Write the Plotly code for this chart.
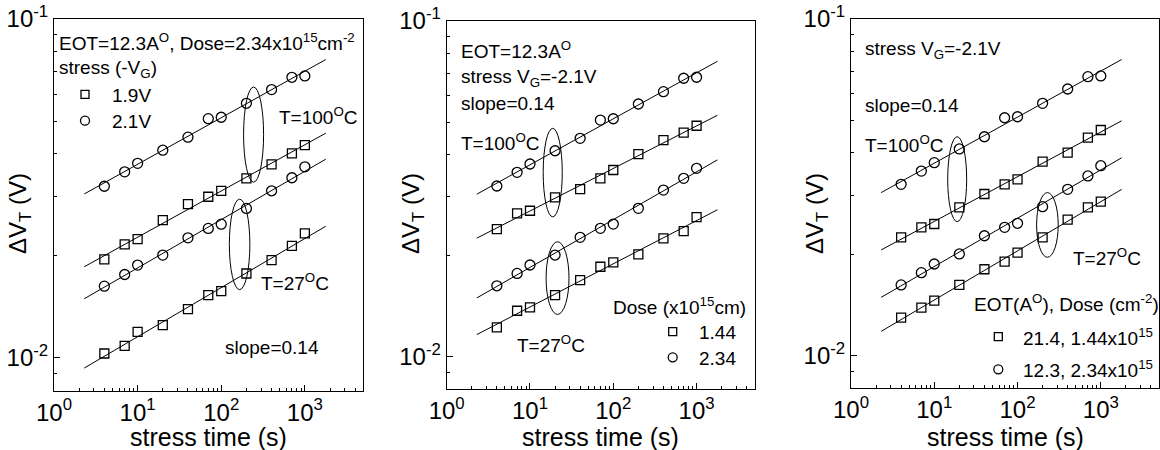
import numpy as np
import plotly.graph_objects as go

# ---------------- data ----------------
t = [4, 7, 10, 20, 40, 70, 100, 200, 400, 700, 1000]

# Panel 1: EOT=12.3A, Dose=2.34e15, stress -VG 1.9V (squares) / 2.1V (circles)
p1_sq_100 = [0.01952, 0.02161, 0.02241, 0.02549, 0.02843, 0.02988, 0.03112, 0.03386, 0.03724, 0.04012, 0.04246]
p1_ci_100 = [0.0321, 0.0354, 0.0375, 0.0410, 0.0448, 0.0508, 0.0513, 0.0564, 0.0619, 0.0673, 0.0679]
p1_sq_27 = [0.01030, 0.01085, 0.01193, 0.01249, 0.01392, 0.01531, 0.01573, 0.01774, 0.01942, 0.02140, 0.02330]
p1_ci_27 = [0.01628, 0.01762, 0.01878, 0.02010, 0.02261, 0.02410, 0.02481, 0.02761, 0.03112, 0.03400, 0.03663]

# Panel 2: dose 1.44 (squares) / 2.34 (circles)
p2_sq_100 = [0.02399, 0.02675, 0.02722, 0.02985, 0.03159, 0.03400, 0.03599, 0.04016, 0.04419, 0.04648, 0.04875]
p2_ci_100 = [0.03225, 0.03542, 0.03750, 0.04108, 0.04472, 0.05069, 0.05116, 0.05659, 0.06159, 0.06752, 0.06799]
p2_sq_27 = [0.01224, 0.01371, 0.01403, 0.01527, 0.01692, 0.01854, 0.01910, 0.02018, 0.02253, 0.02368, 0.02607]
p2_ci_27 = [0.01627, 0.01771, 0.01876, 0.02009, 0.02268, 0.02412, 0.02484, 0.02767, 0.03137, 0.03400, 0.03641]

# Panel 3: EOT 21.4 / dose 1.44 (squares), EOT 12.3 / dose 2.34 (circles)
p3_sq_100 = [0.02247, 0.02406, 0.02461, 0.02758, 0.03021, 0.03228, 0.03341, 0.03769, 0.04008, 0.04440, 0.04680]
p3_ci_100 = [0.03228, 0.03535, 0.03743, 0.04111, 0.04470, 0.05090, 0.05125, 0.05617, 0.06196, 0.06741, 0.06773]
p3_sq_27 = [0.01297, 0.01389, 0.01457, 0.01622, 0.01806, 0.01902, 0.02022, 0.02247, 0.02534, 0.02758, 0.02866]
p3_ci_27 = [0.01622, 0.01764, 0.01872, 0.02005, 0.02271, 0.02406, 0.02473, 0.02770, 0.03119, 0.03418, 0.03666]

fit_span = [2.3, 1780]

x_tickvals = [1, 10, 100, 1000]
x_ticktext = ["10<sup>0</sup>", "10<sup>1</sup>", "10<sup>2</sup>", "10<sup>3</sup>"]
y_tickvals = [0.01, 0.1]
y_ticktext = ["10<sup>-2</sup>", "10<sup>-1</sup>"]
x_range_vals = [1, 5000]
y_range_vals = [0.008, 0.1]

# ellipses: (x0, x1, y0, y1) in data units
p1_ellipses = [(185, 321, 0.033, 0.063), (125, 220, 0.0159, 0.0294)]
p2_ellipses = [(14.4, 24.4, 0.0261, 0.0479), (15.6, 29.4, 0.01337, 0.0220)]
p3_ellipses = [(14.5, 24.5, 0.0250, 0.0447), (169.5, 308, 0.0196, 0.0305)]

# ---------------- figure ----------------
W, H = 1160, 450
FONT = "Liberation Sans, Arial, sans-serif"

def fx(px):
    return px / W

def fy(py):
    return 1 - py / H

panels = [
    dict(xd=(54, 363.3), yd=(19, 390.7),
         series=[(p1_ci_100, "circle-open"), (p1_sq_100, "square-open"),
                 (p1_ci_27, "circle-open"), (p1_sq_27, "square-open")],
         ellipses=p1_ellipses),
    dict(xd=(446.7, 754.8), yd=(21, 389.3),
         series=[(p2_ci_100, "circle-open"), (p2_sq_100, "square-open"),
                 (p2_ci_27, "circle-open"), (p2_sq_27, "square-open")],
         ellipses=p2_ellipses),
    dict(xd=(851, 1159), yd=(19, 388.3),
         series=[(p3_ci_100, "circle-open"), (p3_sq_100, "square-open"),
                 (p3_ci_27, "circle-open"), (p3_sq_27, "square-open")],
         ellipses=p3_ellipses),
]

fig = go.Figure()
shapes = []
layout = dict(
    width=W, height=H,
    margin=dict(l=0, r=0, t=0, b=0, pad=0),
    autosize=False,
    paper_bgcolor="white", plot_bgcolor="white",
    showlegend=False,
    font=dict(family=FONT, color="black"),
)

for i, p in enumerate(panels):
    n = "" if i == 0 else str(i + 1)
    xa, ya = "x" + n, "y" + n
    for vals, sym in p["series"]:
        k, b = np.polyfit(np.log10(t), np.log10(vals), 1)
        tt = np.array(fit_span, dtype=float)
        fig.add_trace(go.Scatter(x=tt, y=10 ** (b + k * np.log10(tt)), mode="lines",
                                 line=dict(color="black", width=1),
                                 xaxis=xa, yaxis=ya, hoverinfo="skip"))
        fig.add_trace(go.Scatter(x=t, y=vals, mode="markers",
                                 marker=dict(symbol=sym, size=10 if "circle" in sym else 9,
                                             color="black", line=dict(width=1.3, color="black")),
                                 xaxis=xa, yaxis=ya))
    for (x0, x1, y0, y1) in p["ellipses"]:
        shapes.append(dict(type="circle", xref=xa, yref=ya, x0=x0, x1=x1, y0=y0, y1=y1,
                           line=dict(color="black", width=1)))
    axcommon = dict(showline=True, linecolor="black", linewidth=1, mirror=True,
                    showgrid=False, zeroline=False, ticks="inside", automargin=False,
                    tickcolor="black", tickfont=dict(size=24, family=FONT, color="black"))
    layout["xaxis" + n] = dict(type="log", range=[np.log10(x_range_vals[0]), np.log10(x_range_vals[1])],
                               domain=[fx(p["xd"][0]), fx(p["xd"][1])],
                               anchor=ya, tickvals=x_tickvals, ticktext=x_ticktext,
                               ticklen=6, minor=dict(ticks="inside", ticklen=3, tickcolor="black",
                                                     dtick="D1", showgrid=False),
                               **axcommon)
    layout["yaxis" + n] = dict(type="log", range=[np.log10(y_range_vals[0]), np.log10(y_range_vals[1])],
                               domain=[fy(p["yd"][1]), fy(p["yd"][0])],
                               anchor=xa, tickvals=y_tickvals, ticktext=y_ticktext,
                               ticklen=6, minor=dict(ticks="inside", ticklen=3, tickcolor="black",
                                                     dtick="D1", showgrid=False),
                               **axcommon)

ann = []

def txt(x, y, s, size=19, anchor="left", angle=0):
    ann.append(dict(x=fx(x), y=fy(y), xref="paper", yref="paper", text=s, showarrow=False,
                    xanchor=anchor, yanchor="middle", textangle=angle,
                    font=dict(size=size, family=FONT, color="black")))

# axis titles
for p in panels:
    txt((p["xd"][0] + p["xd"][1]) / 2, 437, "stress time (s)", size=25, anchor="center")
txt(20, 214, "ΔV<sub>T</sub> (V)", size=24, anchor="center", angle=-90)
txt(413, 214, "ΔV<sub>T</sub> (V)", size=24, anchor="center", angle=-90)
txt(817, 214, "ΔV<sub>T</sub> (V)", size=24, anchor="center", angle=-90)

# panel 1 texts
txt(57, 42, "EOT=12.3A<sup>O</sup>, Dose=2.34x10<sup>15</sup>cm<sup>-2</sup>")
txt(57, 69, "stress (-V<sub>G</sub>)")
txt(110, 95, "1.9V")
txt(110, 121, "2.1V")
txt(277, 116, "T=100<sup>O</sup>C")
txt(259, 282, "T=27<sup>O</sup>C")
txt(223, 347, "slope=0.14")
# panel 2 texts
txt(459, 50, "EOT=12.3A<sup>O</sup>")
txt(459, 78, "stress V<sub>G</sub>=-2.1V")
txt(459, 104, "slope=0.14")
txt(459, 142, "T=100<sup>O</sup>C")
txt(515, 344, "T=27<sup>O</sup>C")
txt(611, 306, "Dose (x10<sup>15</sup>cm)")
txt(697, 332, "1.44")
txt(697, 358, "2.34")
# panel 3 texts
txt(863, 50, "stress V<sub>G</sub>=-2.1V")
txt(863, 105, "slope=0.14")
txt(863, 144, "T=100<sup>O</sup>C")
txt(1071, 257, "T=27<sup>O</sup>C")
txt(972, 303, "EOT(A<sup>O</sup>), Dose (cm<sup>-2</sup>)")
txt(1021, 337, "21.4, 1.44x10<sup>15</sup>")
txt(1021, 369, "12.3, 2.34x10<sup>15</sup>")

# legend symbols (paper coords)
def sq(cx, cy, s=8):
    shapes.append(dict(type="rect", xref="paper", yref="paper",
                       x0=fx(cx - s / 2), x1=fx(cx + s / 2), y0=fy(cy + s / 2), y1=fy(cy - s / 2),
                       line=dict(color="black", width=1.3)))

def ci(cx, cy, s=9):
    shapes.append(dict(type="circle", xref="paper", yref="paper",
                       x0=fx(cx - s / 2), x1=fx(cx + s / 2), y0=fy(cy + s / 2), y1=fy(cy - s / 2),
                       line=dict(color="black", width=1.3)))

sq(85, 94.3); ci(85, 120.7)
sq(672.7, 331.7); ci(672.7, 357.3)
sq(998.3, 336.7); ci(998.3, 369.3)

layout["shapes"] = shapes
layout["annotations"] = ann
fig.update_layout(**layout)
fig.write_html("out.html", config={"displayModeBar": False},
               post_script="document.body.style.margin='0px';document.body.style.overflow='hidden';")
